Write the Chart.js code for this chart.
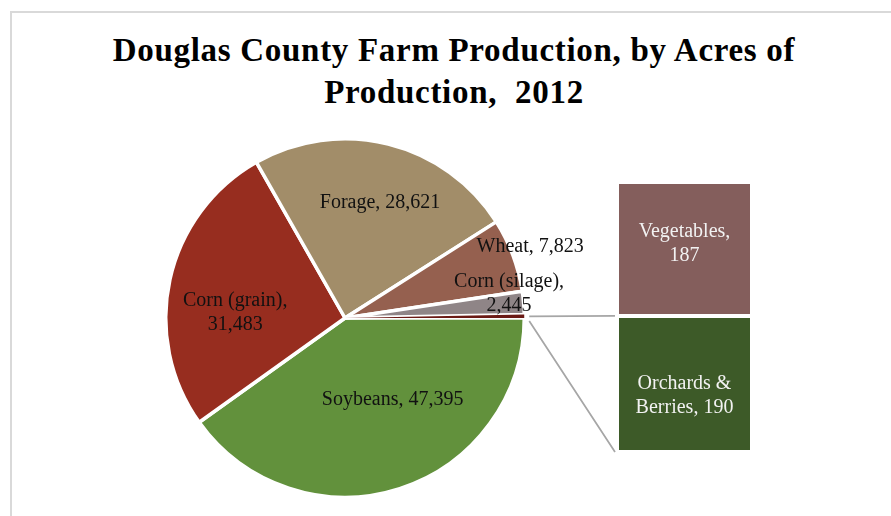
<!DOCTYPE html>
<html>
<head>
<meta charset="utf-8">
<script src="https://cdn.jsdelivr.net/npm/chart.js@4"></script>
<style>
  html, body { margin: 0; padding: 0; background: #fff; }
  #frame { position: relative; width: 891px; height: 516px; overflow: hidden; }
  #edge { position: absolute; left: 10px; top: 11px; width: 900px; height: 520px;
          border-top: 2px solid #d9d9d9; border-left: 2px solid #d9d9d9; }
  #title { position: absolute; left: 0; top: 29px; width: 908px; text-align: center;
           font: bold 33px "Liberation Serif", serif; letter-spacing: 0.7px;
           line-height: 42px; color: #000; }
  #pie { position: absolute; left: 0; top: 0; }
  #bar { position: absolute; left: 520px; top: 170px; }
</style>
</head>
<body>
<div id="frame">
  <div id="edge"></div>
  <div id="title">Douglas County Farm Production, by Acres of<br>Production,&nbsp; 2012</div>
  <canvas id="pie" width="891" height="516"></canvas>
  <canvas id="bar" width="250" height="300"></canvas>
</div>
<script>
// acres of production, 2012
const categories = ['Soybeans', 'Corn (grain)', 'Forage', 'Wheat', 'Corn (silage)', 'Other'];
const mainAcres = [47395, 31483, 28621, 7823, 2445];
const otherCategories = ['Orchards & Berries', 'Vegetables'];
const otherAcres = [190, 187];

const otherTotal = otherAcres.reduce((s, v) => s + v, 0);
const pieValues = mainAcres.concat([otherTotal]);

const pieColors = ['#62913c', '#972d1f', '#a28d69', '#95604f', '#8f8587', '#6a1a15'];
const barColors = ['#3d5a28', '#845e5c'];

const fmt = v => v.toLocaleString('en-US');
const serif = '"Liberation Serif", serif';

// text on each slice: line breaks and a small shift from the slice centre
const sliceText = {
  id: 'sliceText',
  afterDatasetsDraw(chart, args, opts) {
    const ctx = chart.ctx;
    const arcs = chart.getDatasetMeta(0).data;
    ctx.save();
    ctx.font = '20px ' + serif;
    ctx.fillStyle = '#111';
    ctx.textAlign = 'center';
    ctx.textBaseline = 'middle';
    arcs.forEach((arc, i) => {
      const p = opts.place[i];
      if (!p) return;
      const mid = (arc.startAngle + arc.endAngle) / 2;
      const r = arc.outerRadius * 0.65;
      const x = arc.x + Math.cos(mid) * r + p.dx;
      const y = arc.y + Math.sin(mid) * r + p.dy;
      const name = chart.data.labels[i];
      const val = fmt(chart.data.datasets[0].data[i]);
      const lines = p.wrap ? [name + ',', val] : [name + ', ' + val];
      const top = y - (lines.length - 1) * 12;
      lines.forEach((t, k) => ctx.fillText(t, x, top + k * 24));
    });
    ctx.restore();
  }
};

const pieChart = new Chart(document.getElementById('pie'), {
  type: 'pie',
  data: {
    labels: categories,
    datasets: [{
      data: pieValues,
      backgroundColor: pieColors,
      borderColor: '#ffffff',
      borderWidth: [3.5, 3.5, 3.5, 3.5, 3.5, 0]
    }]
  },
  options: {
    responsive: false,
    animation: false,
    rotation: 90,
    layout: { padding: { left: 164, right: 365, top: 137, bottom: 17 } },
    plugins: {
      legend: { display: false },
      tooltip: { enabled: false },
      sliceText: {
        place: [
          { dx: 12, dy: -29 },
          { dx: 4, dy: 20, wrap: true },
          { dx: 7, dy: -2 },
          { dx: 76, dy: -30 },
          { dx: 48, dy: -14, wrap: true },
          null
        ]
      }
    }
  },
  plugins: [sliceText]
});

// connector lines from the small slice to the stacked bar, plus the box labels
const barExtras = {
  id: 'barExtras',
  afterDatasetsDraw(chart, args, opts) {
    const ctx = chart.ctx;
    const pie = pieChart.getDatasetMeta(0).data[pieValues.length - 1];
    const pieCv = pieChart.canvas, barCv = chart.canvas;
    const ox = pieCv.offsetLeft - barCv.offsetLeft;
    const oy = pieCv.offsetTop - barCv.offsetTop;
    const R = pie.outerRadius + 5;
    const lower = chart.getDatasetMeta(0).data[0];
    const left = lower.x - lower.width / 2 - 2;
    ctx.save();
    ctx.strokeStyle = '#a6a6a6';
    ctx.lineWidth = 1.75;
    ctx.beginPath();
    ctx.moveTo(ox + pie.x + Math.cos(pie.startAngle) * R, oy + pie.y + Math.sin(pie.startAngle) * R + 2);
    ctx.lineTo(left, lower.y);
    ctx.moveTo(ox + pie.x + Math.cos(pie.endAngle) * R, oy + pie.y + Math.sin(pie.endAngle) * R + 3);
    ctx.lineTo(left, lower.base);
    ctx.stroke();

    ctx.font = '20px ' + serif;
    ctx.fillStyle = '#f2f2f2';
    ctx.textAlign = 'center';
    ctx.textBaseline = 'middle';
    chart.data.datasets.forEach((ds, i) => {
      const bar = chart.getDatasetMeta(i).data[0];
      const cy = (bar.y + bar.base) / 2 + opts.shift[i];
      const lines = opts.lines[i](ds.label, fmt(ds.data[0]));
      const top = cy - (lines.length - 1) * 12;
      lines.forEach((t, k) => ctx.fillText(t, bar.x, top + k * 24));
    });
    ctx.restore();
  }
};

new Chart(document.getElementById('bar'), {
  type: 'bar',
  data: {
    labels: [''],
    datasets: otherCategories.map((name, i) => ({
      label: name,
      data: [otherAcres[i]],
      backgroundColor: barColors[i],
      borderColor: '#ffffff',
      borderWidth: 2,
      borderSkipped: false,
      inflateAmount: 0,
      barPercentage: 1,
      categoryPercentage: 1
    }))
  },
  options: {
    responsive: false,
    animation: false,
    layout: { padding: { left: 97, right: 18, top: 12, bottom: 18 } },
    scales: {
      x: { stacked: true, display: false },
      y: { stacked: true, display: false, min: 0, max: otherTotal }
    },
    plugins: {
      legend: { display: false },
      tooltip: { enabled: false },
      barExtras: {
        shift: [12, -5],
        lines: [
          (name, v) => ['Orchards &', 'Berries, ' + v],
          (name, v) => [name + ',', v]
        ]
      }
    }
  },
  plugins: [barExtras]
});
</script>
</body>
</html>
